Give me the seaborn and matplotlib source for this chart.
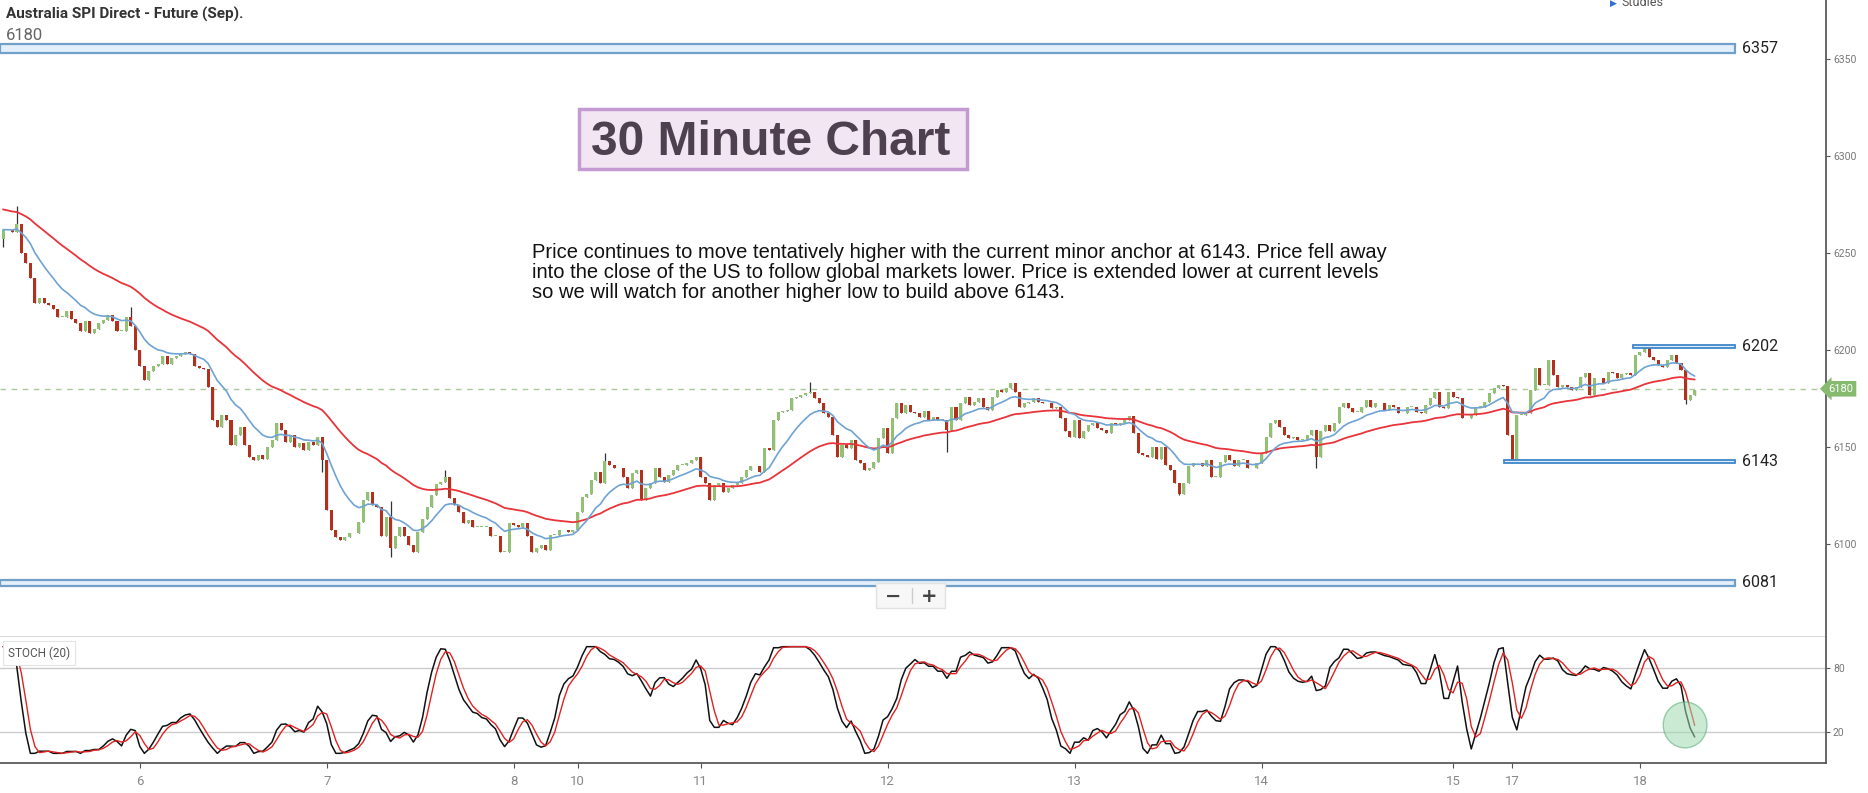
import numpy as np
import pandas as pd
import matplotlib
matplotlib.use("Agg")
import matplotlib.pyplot as plt
from matplotlib.patches import Rectangle, Ellipse, FancyBboxPatch
from matplotlib.transforms import blended_transform_factory
import seaborn as sns

# --- data (30 minute closes) ---
close_a = [6262, 6262, 6261, 6265, 6250, 6245, 6237, 6224, 6227, 6224, 6223, 6221, 6217, 6217, 6220,
           6216, 6214, 6210, 6215, 6209, 6211, 6214, 6215.5, 6218, 6215, 6210, 6210, 6217, 6212.5,
           6200, 6191.5, 6184.5, 6189, 6192, 6193, 6197, 6193, 6196, 6197, 6198, 6199, 6198, 6192,
           6190.5, 6190, 6181, 6164, 6160.5, 6166.5, 6164, 6151, 6156, 6160.5, 6151, 6145, 6143.3,
           6146, 6144, 6150, 6153.6, 6162.6, 6158.8, 6152.8, 6156, 6150, 6152, 6148.5, 6152.8, 6151,
           6155.4, 6143.3, 6117.5, 6107.3, 6103.8, 6102, 6103.8, 6105.5, 6105.5, 6111.5, 6122.7, 6127,
           6120, 6119.3, 6104, 6114, 6098, 6104, 6109, 6104, 6099.5, 6096, 6106, 6113, 6119, 6125,
           6131, 6132, 6134.7, 6123.6, 6120, 6116.7, 6110.7, 6112.4]
close_b = [6109, 6109, 6109, 6109, 6104, 6104, 6096, 6096, 6110.7, 6110, 6109, 6110.7, 6104, 6096,
           6097.8, 6099.5, 6097, 6104.7, 6104.7, 6107, 6107, 6106, 6107, 6116.7, 6124.4, 6126, 6133,
           6137, 6131.3, 6143, 6140.7, 6139, 6139, 6134.7, 6128.7, 6136.5, 6138, 6122.7, 6128.7,
           6131.3, 6139, 6134.7, 6132, 6135.6, 6138, 6140.7, 6140.7, 6141.6, 6143.3, 6145, 6134.7,
           6131.3, 6122.7, 6130.4, 6131.3, 6127, 6128.7, 6130.4, 6131.3, 6134.7, 6138, 6140, 6140,
           6137.3, 6149.3, 6148.5, 6164, 6168.2, 6168.8, 6169, 6175, 6176, 6177, 6177.7, 6178.5,
           6175, 6172.5, 6167.4, 6165.7, 6156.2, 6145, 6151, 6149.3, 6153.6, 6143.3, 6141.6, 6138,
           6139, 6142.5, 6154.5, 6159.6, 6146.8, 6164.8, 6172.5, 6167.4, 6171.7, 6168.2, 6167.4,
           6165.7, 6168.8]
close_c = [6164, 6165.7, 6164, 6164, 6158.8, 6170.8, 6164, 6172.5, 6176, 6171.7, 6173.4, 6175,
           6170.8, 6169, 6176, 6179.4, 6178.5, 6180.3, 6182.8, 6178.5, 6170.8, 6172.5, 6173.4, 6175,
           6173.4, 6172.5, 6172.5, 6170, 6170.8, 6164.8, 6158, 6155.4, 6164, 6154.5, 6158, 6161.4,
           6162.2, 6159.6, 6158.8, 6157, 6162.2, 6161.4, 6162.2, 6164, 6166, 6157, 6146.8, 6146,
           6145, 6150, 6144, 6150, 6140.7, 6138, 6131.3, 6126, 6131.3, 6140, 6141.6, 6141.6, 6140,
           6143.3, 6134.7, 6134.7, 6142.5, 6146, 6143.3, 6140, 6143.3, 6143.3, 6139, 6139, 6141.6,
           6146.8, 6155.4, 6162.2, 6164, 6160.5, 6156.2, 6154.5, 6155.4, 6153.6, 6153.6, 6156.2,
           6158.8, 6145, 6158, 6161.4, 6158, 6162.2, 6170.8, 6172.5, 6170, 6168.2, 6168.2, 6170.8,
           6174.3, 6170.8, 6172.5, 6172.5, 6169]
close_d = [6171.6, 6170.7, 6167.3, 6167.3, 6170.7, 6170.7, 6168, 6167.3, 6171.6, 6175, 6178.5,
           6170.7, 6170, 6178.5, 6175.9, 6175, 6164.7, 6164.7, 6166.4, 6170.7, 6170.7, 6173.3,
           6177.6, 6180.2, 6181.9, 6181.4, 6156.1, 6143.3, 6166.4, 6166.4, 6167.3, 6179.3, 6190.5,
           6181.9, 6181.9, 6194.8, 6187.1, 6181, 6181.9, 6181, 6179.3, 6181, 6186.2, 6188.3, 6176.8,
           6185.4, 6185.4, 6182.8, 6188.8, 6187.9, 6185.4, 6187.6, 6188.3, 6187.1, 6197.4, 6199.1,
           6200.8, 6196.5, 6194.8, 6192.2, 6191.4, 6194.8, 6197.4, 6193.1, 6189.6, 6174.2, 6176.8,
           6179.3]
first_open = 6257

# notable wick extremes {bar: price}
wick_high = {3: 6274, 28: 6222, 85: 6122, 97: 6138, 132: 6147, 177: 6183.5, 288: 6158, 360: 6203}
wick_low = {0: 6253, 70: 6137, 85: 6093.5, 207: 6147.5, 258: 6125, 288: 6139, 331: 6141.5, 369: 6172}

ma_fast_seed, ma_slow_seed = 6262, 6273

day_labels = ["6", "7", "8", "10", "11", "12", "13", "14", "15", "17", "18"]
day_start_bar = [30, 71, 112, 126, 153, 194, 235, 276, 318, 331, 359]

levels = [6357, 6202, 6143, 6081]
last_price = 6180

title = "Australia SPI Direct - Future (Sep)."
note_lines = [
    "Price continues to move tentatively higher with the current minor anchor at 6143. Price fell away",
    "into the close of the US to follow global markets lower. Price is extended lower at current levels",
    "so we will watch for another higher low to build above 6143.",
]

# --- derived series ---
close = np.array(close_a + close_b + close_c + close_d, dtype=float)
opens = np.concatenate([[first_open], close[:-1]])
highs = np.maximum(opens, close)
lows = np.minimum(opens, close)
for k, v in wick_high.items():
    highs[k] = max(highs[k], v)
for k, v in wick_low.items():
    lows[k] = min(lows[k], v)
idx = np.arange(len(close))

ma_fast = pd.Series(np.r_[ma_fast_seed, close]).ewm(span=12, adjust=False).mean().values[1:]
ma_slow = pd.Series(np.r_[ma_slow_seed, close]).ewm(span=40, adjust=False).mean().values[1:]

hh = pd.Series(highs).rolling(20, min_periods=1).max()
ll = pd.Series(lows).rolling(20, min_periods=1).min()
raw_k = (100 * (pd.Series(close) - ll) / (hh - ll)).replace([np.inf, -np.inf], np.nan).fillna(50)
stoch_k = raw_k.rolling(3, min_periods=1).mean()
stoch_d = stoch_k.rolling(3, min_periods=1).mean()

# --- figure ---
sns.set_theme(style="white")
plt.rcParams["font.family"] = ["Liberation Sans", "DejaVu Sans"]
NARROW = ["Liberation Sans Narrow", "Roboto", "DejaVu Sans"]

W, H = 1868, 793
fig = plt.figure(figsize=(W / 100, H / 100), dpi=100)
fig.patch.set_facecolor("white")

XMIN, XMAX = -0.66, 399.8
ax = fig.add_axes([0, 1 - 637 / H, 1826 / W, 637 / H])
axs = fig.add_axes([0, 1 - 763 / H, 1826 / W, 126 / H])

# price panel
ax.set_xlim(XMIN, XMAX)
ax.set_ylim(6052.06, 6380.4)
ax.axhline(last_price, color="#a9c99b", lw=1, ls=(0, (4, 4)), zorder=1)

up = close >= opens
body_lo = np.minimum(opens, close)
body_h = np.maximum(np.abs(close - opens), 0.4)
ax.vlines(idx, lows, highs, color="#333333", lw=0.9, zorder=2)
ax.bar(idx[up], body_h[up], bottom=body_lo[up], width=0.66, color="#92c173", edgecolor="none", zorder=3)
ax.bar(idx[~up], body_h[~up], bottom=body_lo[~up], width=0.66, color="#b3301c", edgecolor="none", zorder=3)

sns.lineplot(x=idx, y=ma_slow, ax=ax, color="#e8343a", lw=1.3, zorder=4)
sns.lineplot(x=idx, y=ma_fast, ax=ax, color="#6fa3d4", lw=1.2, zorder=4)

band_end = 379.8
level_start = [XMIN, 357.5, 329.2, XMIN]
level_lo = [6353.0, 6201.2, 6141.8, 6078.3]
level_h = [4.5, 1.4, 1.4, 3.3]
for lv, x0, y0, hgt in zip(levels, level_start, level_lo, level_h):
    thick = hgt > 2
    ax.add_patch(Rectangle((x0, y0), band_end - x0, hgt,
                           fc="#e3effa" if thick else "#dcecfa",
                           ec="#709fc9" if thick else "#3f87c9",
                           lw=1.6 if thick else 1.3, zorder=5))
    ax.text(381.4, y0 + hgt / 2, str(lv), ha="left", va="center", fontsize=11.5,
            color="#222222", family=NARROW)

ax.yaxis.tick_right()
ax.set_yticks([6100, 6150, 6200, 6250, 6300, 6350])
ax.tick_params(axis="y", right=True, length=3, width=0.8, color="#555555", labelsize=7.5,
               labelcolor="#777777", pad=2)
ax.set_xticks([])
for s in ["left", "top"]:
    ax.spines[s].set_visible(False)
ax.spines["right"].set_color("#555555")
ax.spines["bottom"].set_color("#d5d5d5")
ax.set_ylabel("")
for lab in ax.get_yticklabels():
    lab.set_family(NARROW)

# last price tag
tr = blended_transform_factory(fig.transFigure, ax.transData)
ax.text(1841 / W, last_price, str(last_price), transform=tr, ha="center", va="center",
        fontsize=8, color="white", family=NARROW, zorder=10, clip_on=False,
        bbox=dict(boxstyle="larrow,pad=0.25", fc="#86ba6e", ec="none"))

# stochastic panel
axs.set_xlim(XMIN, XMAX)
axs.set_ylim(-9.06, 109.06)
axs.axhline(80, color="#cccccc", lw=1, zorder=1)
axs.axhline(20, color="#cccccc", lw=1, zorder=1)
sns.lineplot(x=idx, y=stoch_k.values, ax=axs, color="#111111", lw=1.1, zorder=3)
sns.lineplot(x=idx, y=stoch_d.values, ax=axs, color="#e02222", lw=1.0, zorder=4)
axs.add_patch(Ellipse((368.9, 26.6), 9.6, 43, fc="#9fd9b2", ec="#4fae72", lw=1, alpha=0.55, zorder=5))

axs.yaxis.tick_right()
axs.set_yticks([20, 80])
axs.tick_params(axis="y", right=True, length=3, width=0.8, color="#555555", labelsize=7.5,
                labelcolor="#777777", pad=2)
axs.set_xticks(day_start_bar)
axs.set_xticklabels(day_labels)
axs.tick_params(axis="x", bottom=True, length=3.5, width=0.8, color="#555555", labelsize=9.5,
                labelcolor="#888888", pad=5)
for lab in axs.get_xticklabels() + axs.get_yticklabels():
    lab.set_family(NARROW)
for s in ["left", "top"]:
    axs.spines[s].set_visible(False)
axs.spines["right"].set_color("#555555")
axs.spines["bottom"].set_color("#555555")
axs.set_ylabel("")

# header texts
fig.text(6 / W, 1 - 14 / H, title, ha="left", va="center", fontsize=11, weight="bold",
         color="#333333", family=NARROW)
fig.text(6 / W, 1 - 36 / H, str(last_price), ha="left", va="center", fontsize=12,
         color="#666666", family=NARROW)
fig.text(1610 / W, 1 - 3 / H, "\u25B6", ha="left", va="center", fontsize=6.5, color="#2d6fd6",
         family="DejaVu Sans")
fig.text(1622 / W, 1 - 3 / H, "Studies", ha="left", va="center", fontsize=9, color="#555555",
         family=NARROW)

# title box
fig.add_artist(Rectangle((579 / W, 1 - 169 / H), 388 / W, 60 / H, transform=fig.transFigure,
                         fc="#f3e6f3", ec="#c49ad2", lw=2.5, zorder=6))
fig.text(771 / W, 1 - 155 / H, "30 Minute Chart", ha="center", va="baseline", fontsize=34.5,
         weight="bold", color="#4e404e", zorder=7)

# commentary
for k, line in enumerate(note_lines):
    fig.text(532 / W, 1 - (258.5 + 19.7 * k) / H, line, ha="left", va="baseline", fontsize=14.5,
             color="#111111", zorder=7)

# zoom buttons
fig.add_artist(FancyBboxPatch((876 / W, 1 - 608 / H), 69 / W, 25 / H, transform=fig.transFigure,
                              boxstyle="square,pad=0", fc="#f7f7f7", ec="#e2e2e2", lw=1, zorder=8))
fig.add_artist(plt.Line2D([912 / W, 912 / W], [1 - 603 / H, 1 - 588 / H], transform=fig.transFigure,
                          color="#cccccc", lw=1, zorder=9))
fig.text(893 / W, 1 - 596 / H, "\u2212", ha="center", va="center", fontsize=14, weight="bold",
         color="#444444", family="DejaVu Sans", zorder=9)
fig.text(929 / W, 1 - 596 / H, "+", ha="center", va="center", fontsize=14, weight="bold",
         color="#444444", family="DejaVu Sans", zorder=9)

# indicator label
fig.text(8 / W, 1 - 653 / H, "STOCH (20)", ha="left", va="center", fontsize=8.5, color="#555555",
         family=NARROW, zorder=9,
         bbox=dict(boxstyle="square,pad=0.45", fc="white", ec="#e4e4e4", lw=0.8))

fig.savefig("out.png", dpi=100, facecolor="white")
